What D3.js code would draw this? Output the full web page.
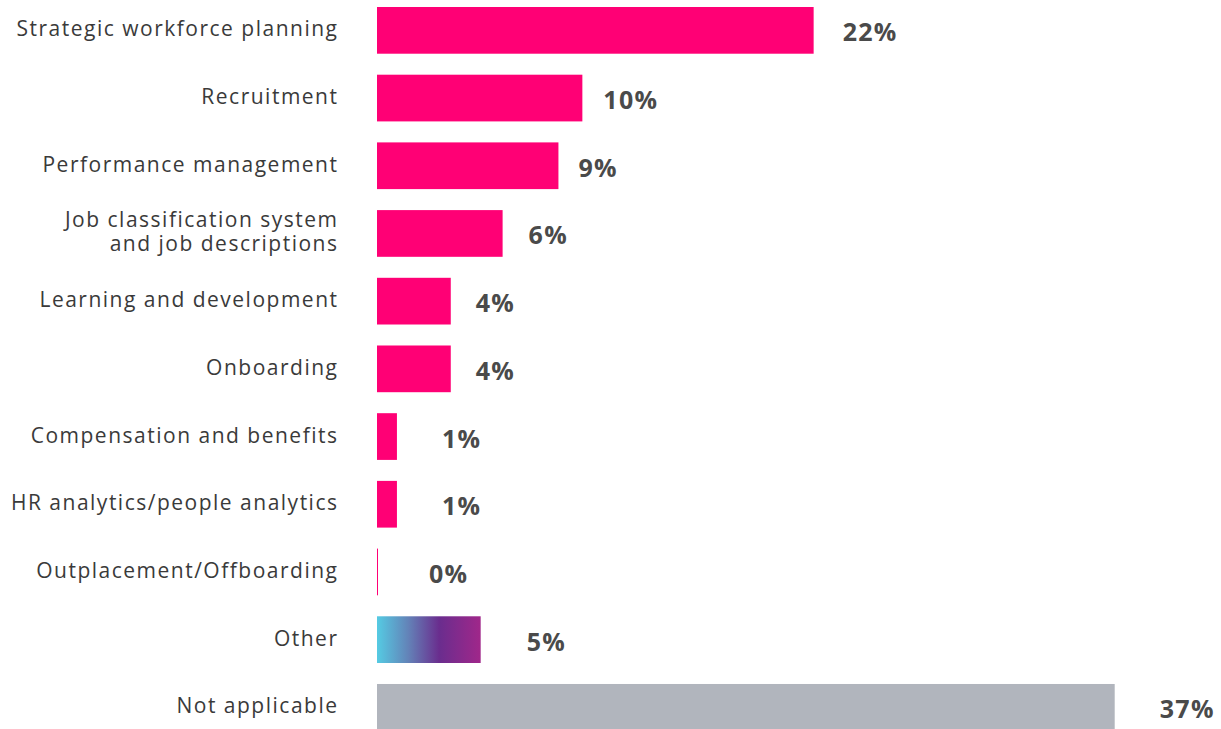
<!DOCTYPE html>
<html>
<head>
<meta charset="utf-8">
<script src="https://cdn.jsdelivr.net/npm/d3@7"></script>
<style>
  html, body { margin: 0; padding: 0; background: #ffffff; }
  svg { display: block; }
</style>
</head>
<body>
<svg id="chart" width="1221" height="729"></svg>
<script>
// Share of respondents by HR area (%)
const categories = [
  ["Strategic workforce planning"],
  ["Recruitment"],
  ["Performance management"],
  ["Job classification system", "and job descriptions"],
  ["Learning and development"],
  ["Onboarding"],
  ["Compensation and benefits"],
  ["HR analytics/people analytics"],
  ["Outplacement/Offboarding"],
  ["Other"],
  ["Not applicable"]
];
const values = [21.9, 10.3, 9.1, 6.3, 3.7, 3.7, 1.0, 1.0, 0.05, 5.2, 37];
const barKinds = ["main", "main", "main", "main", "main", "main", "main", "main", "main", "other", "na"];

// Layout: spacing between bar end and its value label
const labelGap = [29, 21, 20, 26, 25, 25, 45, 45, 51, 46, 45];

const svg = d3.select("#chart");
const x0 = 377;

const x = d3.scaleLinear().domain([0, 37]).range([x0, 1114.7]);
const y = d3.scaleBand()
  .domain(d3.range(categories.length))
  .range([7, 730.7])
  .paddingInner(0.31)
  .paddingOuter(0);

// gradient for the "Other" bar
const defs = svg.append("defs");
const grad = defs.append("linearGradient")
  .attr("id", "otherGrad")
  .attr("x1", "0%").attr("x2", "100%").attr("y1", "0%").attr("y2", "0%");
grad.append("stop").attr("offset", "0%").attr("stop-color", "#55cbe3");
grad.append("stop").attr("offset", "30%").attr("stop-color", "#6383b8");
grad.append("stop").attr("offset", "60%").attr("stop-color", "#6a2d8e");
grad.append("stop").attr("offset", "100%").attr("stop-color", "#a0278a");

const fillFor = k => k === "other" ? "url(#otherGrad)" : (k === "na" ? "#b1b5bd" : "#ff0075");

const rows = values.map((v, i) => ({ v, i, lines: categories[i], kind: barKinds[i], gap: labelGap[i] }));

// bars
svg.append("g").selectAll("rect")
  .data(rows)
  .join("rect")
  .attr("x", x(0))
  .attr("y", d => y(d.i))
  .attr("width", d => Math.max(1, x(d.v) - x(0)))
  .attr("height", y.bandwidth())
  .attr("fill", d => fillFor(d.kind));

// category labels
const catX = 338.5;
const catG = svg.append("g")
  .attr("font-family", "'Open Sans', 'Noto Sans', sans-serif")
  .attr("font-size", 21)
  .attr("letter-spacing", 1.5)
  .attr("fill", "#3a3a3a")
  .attr("text-anchor", "end");

catG.selectAll("text")
  .data(rows)
  .join("text")
  .attr("x", catX)
  .attr("y", d => y(d.i) + y.bandwidth() / 2 - 2)
  .each(function (d) {
    const t = d3.select(this);
    const n = d.lines.length;
    const lh = 24;
    d.lines.forEach((line, j) => {
      t.append("tspan")
        .attr("x", catX)
        .attr("dy", j === 0 ? (-(n - 1) * lh / 2) : lh)
        .attr("dominant-baseline", "central")
        .text(line);
    });
  });

// value labels
svg.append("g")
  .attr("font-family", "'Open Sans', 'Noto Sans', sans-serif")
  .attr("font-size", 25)
  .attr("font-weight", "bold")
  .attr("letter-spacing", 1.3)
  .attr("fill", "#4a4a4a")
  .selectAll("text")
  .data(rows)
  .join("text")
  .attr("x", d => Math.max(x(d.v), x(0) + 1) + d.gap)
  .attr("y", d => y(d.i) + y.bandwidth() / 2 + 1)
  .attr("dominant-baseline", "central")
  .text(d => d3.format(".0f")(d.v) + "%");
</script>
</body>
</html>
